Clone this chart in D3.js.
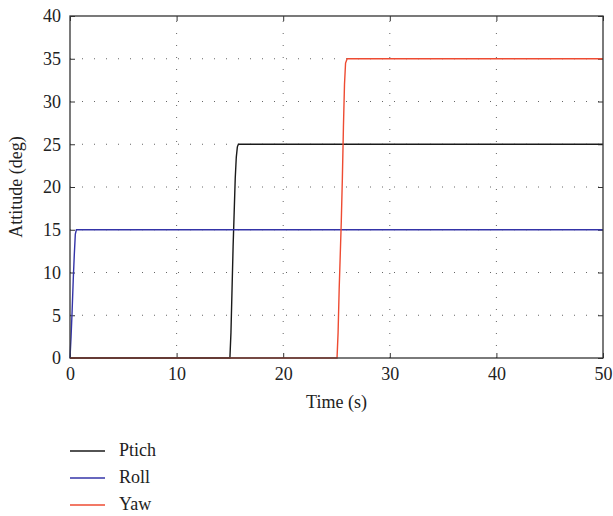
<!DOCTYPE html>
<html>
<head>
<meta charset="utf-8">
<script src="https://cdn.jsdelivr.net/npm/d3@7"></script>
<style>
  body { margin: 0; background: #fff; }
  svg { display: block; }
  text { font-family: "Liberation Serif", "DejaVu Serif", serif; fill: #222; }
</style>
</head>
<body>
<svg id="chart" width="613" height="516"></svg>
<script>
// ---- data ----
const xTicks = [0, 10, 20, 30, 40, 50];
const yTicks = [0, 5, 10, 15, 20, 25, 30, 35, 40];

const pitchT = [0, 15.0, 15.1, 15.2, 15.3, 15.4, 15.5, 15.6, 15.7, 15.8, 50];
const pitchV = [0, 0, 3, 8, 13, 17, 21, 23.5, 24.7, 25, 25];

const rollT = [0, 0.1, 0.2, 0.3, 0.4, 0.5, 0.6, 50];
const rollV = [0, 2.5, 5.5, 9, 12, 14.5, 15, 15];

const yawT = [0, 25.05, 25.15, 25.25, 25.35, 25.45, 25.55, 25.65, 25.75, 25.85, 26.0, 50];
const yawV = [0, 0, 3, 8, 12, 16, 21, 27, 32, 34.5, 35, 35];

const seriesNames = ["Ptich", "Roll", "Yaw"];
const seriesColors = ["#1a1a1a", "#3434a8", "#ee4b32"];

// ---- layout ----
const svg = d3.select("#chart");
const L = 70, R = 603, T = 16, B = 358;
const x = d3.scaleLinear().domain([0, 50]).range([L, R]);
const y = d3.scaleLinear().domain([0, 40]).range([B, T]);

// grid
const grid = svg.append("g").attr("stroke", "#666").attr("stroke-width", 1)
  .attr("stroke-dasharray", "1,11");
grid.selectAll(".gx").data(xTicks.slice(1, -1)).join("line")
  .attr("x1", d => x(d)).attr("x2", d => x(d)).attr("y1", B).attr("y2", T);
grid.selectAll(".gy").data(yTicks.slice(1, -1)).join("line")
  .attr("x1", L).attr("x2", R).attr("y1", d => y(d)).attr("y2", d => y(d));

// axes (inward ticks)
const fontSize = 18;
svg.append("g").attr("transform", `translate(0,${B})`)
  .call(d3.axisBottom(x).tickValues(xTicks).tickSizeInner(-5).tickSizeOuter(0).tickPadding(9));
svg.append("g").attr("transform", `translate(${L},0)`)
  .call(d3.axisLeft(y).tickValues(yTicks).tickSizeInner(-5).tickSizeOuter(0).tickPadding(9));
// top/right ticks
svg.append("g").attr("transform", `translate(0,${T})`)
  .call(d3.axisTop(x).tickValues(xTicks).tickSizeInner(-5).tickSizeOuter(0).tickFormat(""));
svg.append("g").attr("transform", `translate(${R},0)`)
  .call(d3.axisRight(y).tickValues(yTicks).tickSizeInner(-5).tickSizeOuter(0).tickFormat(""));

svg.selectAll(".domain").remove();
svg.selectAll(".tick line").attr("stroke", "#333");
svg.selectAll(".tick text").attr("font-size", fontSize)
  .attr("font-family", '"Liberation Serif", serif').attr("fill", "#222");

// series lines
const line = d3.line().x(d => x(d[0])).y(d => y(d[1]));
const series = [
  d3.zip(pitchT, pitchV),
  d3.zip(rollT, rollV),
  d3.zip(yawT, yawV)
];
series.forEach((s, i) => {
  svg.append("path").datum(s).attr("d", line)
    .attr("fill", "none").attr("stroke", seriesColors[i]).attr("stroke-width", 1.4);
});

// frame
svg.append("rect").attr("x", L).attr("y", T).attr("width", R - L).attr("height", B - T)
  .attr("fill", "none").attr("stroke", "#333").attr("stroke-width", 1.3);

// axis labels
svg.append("text").attr("x", (L + R) / 2).attr("y", 408).attr("text-anchor", "middle")
  .attr("font-size", fontSize).text("Time (s)");
svg.append("text").attr("transform", `translate(22,${(T + B) / 2}) rotate(-90)`)
  .attr("text-anchor", "middle").attr("font-size", fontSize).text("Attitude (deg)");

// legend
const legY = [451, 478, 505];
seriesNames.forEach((n, i) => {
  svg.append("line").attr("x1", 70).attr("x2", 105).attr("y1", legY[i]).attr("y2", legY[i])
    .attr("stroke", seriesColors[i]).attr("stroke-width", 1.3);
  svg.append("text").attr("x", 119).attr("y", legY[i] + 5).attr("font-size", fontSize).text(n);
});
</script>
</body>
</html>
